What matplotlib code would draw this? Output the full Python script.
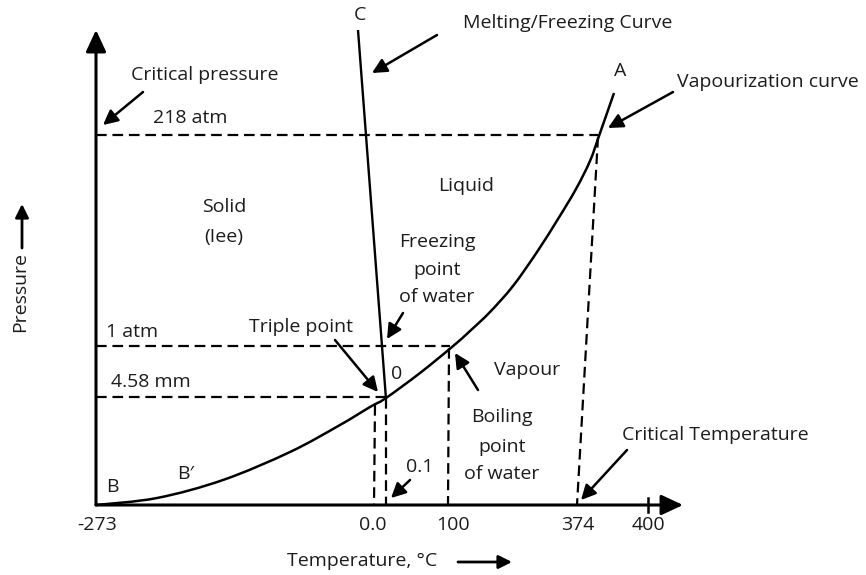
import matplotlib
matplotlib.use("Agg")
import matplotlib.pyplot as plt
from matplotlib.path import Path
from matplotlib.patches import PathPatch

plt.rcParams["font.family"] = ["Open Sans", "DejaVu Sans"]

# schematic drawing units (one unit = one pixel of the 866x575 picture, y downwards)
origin = (96, 505)
x_end, y_end = 683, 30

# vapourization curve B -> O -> A
vap_x = [96, 157, 223, 290, 340, 370, 386, 420, 452, 470, 490, 513, 537, 558, 576, 590, 599, 614]
vap_y = [505, 498, 480, 452, 425, 407, 398, 373, 347, 331, 312, 286, 252, 219, 189, 161, 136, 93]

# melting / freezing curve O -> C
melt_x = [386, 358]
melt_y = [399, 30]

# temperature ticks
tick_labels = ["-273", "0.0", "100", "374", "400"]
tick_x = [97, 373, 453, 578, 648]

# pressure levels: label, level, dashed line end
p_labels = ["218 atm", "1 atm", "4.58 mm"]
p_level = [135, 346, 397]
p_end = [598, 450, 386]

# vertical drop lines (top, bottom)
drop_top = [(375, 405), (386, 398), (449, 348), (598, 137)]
drop_bot = [(374, 505), (386, 505), (448, 505), (577, 505)]

TXT = "#1c1c1c"
FS = 14

fig = plt.figure(figsize=(8.66, 5.75), dpi=100)
ax = fig.add_axes([0, 0, 1, 1])
ax.set_xlim(0, 866)
ax.set_ylim(575, 0)
ax.axis("off")


def arrow(x0, y0, x1, y1, scale=22, lw=1.8, style="-|>"):
    ax.annotate("", xy=(x1, y1), xytext=(x0, y0),
                arrowprops=dict(arrowstyle=style, mutation_scale=scale, lw=lw,
                                color="k", shrinkA=0, shrinkB=0))


def label(x, y, s, ha="center", **kw):
    ax.text(x, y, s, ha=ha, va="center", fontsize=FS, color=TXT, **kw)


def smooth_path(xs, ys):
    # cubic bezier segments through the read points (Catmull-Rom handles)
    pts = list(zip(xs, ys))
    verts = [pts[0]]
    codes = [Path.MOVETO]
    for i in range(len(pts) - 1):
        p0 = pts[i - 1] if i > 0 else pts[i]
        p1, p2 = pts[i], pts[i + 1]
        p3 = pts[i + 2] if i + 2 < len(pts) else pts[i + 1]
        c1 = (p1[0] + (p2[0] - p0[0]) / 6, p1[1] + (p2[1] - p0[1]) / 6)
        c2 = (p2[0] - (p3[0] - p1[0]) / 6, p2[1] - (p3[1] - p1[1]) / 6)
        verts += [c1, c2, p2]
        codes += [Path.CURVE4] * 3
    return Path(verts, codes)


# axes with arrow heads
axis_style = "-|>,head_length=0.6,head_width=0.28"
arrow(origin[0], origin[1], origin[0], y_end, style=axis_style, lw=2.2)
arrow(origin[0], origin[1], x_end, origin[1], style=axis_style, lw=2.2)
ax.plot([648, 648], [498, 512], color="k", lw=1.8)

# dashed guide lines
dash = dict(color="k", lw=1.6, dashes=(4.8, 2.6))
for lvl, xe in zip(p_level, p_end):
    ax.plot([origin[0], xe], [lvl, lvl], **dash)
for (xt, yt), (xb, yb) in zip(drop_top, drop_bot):
    ax.plot([xt, xb], [yt, yb], **dash)

# phase boundaries
ax.add_patch(PathPatch(smooth_path(vap_x, vap_y), fill=False, lw=1.8,
                       edgecolor="k", capstyle="butt"))
ax.plot(melt_x, melt_y, color="k", lw=1.7, solid_capstyle="butt")

# tick labels
for lab, x in zip(tick_labels, tick_x):
    label(x, 525, lab)

# axis titles
label(362, 561, "Temperature, \u00b0C")
arrow(458, 562, 512, 562, scale=20, lw=2)
label(20, 292, "Pressure", rotation=90)
arrow(22, 248, 22, 204, scale=20, lw=2)

# pressure labels
label(106, 332, p_labels[1], ha="left")
label(111, 382, p_labels[2], ha="left")
label(190, 118, p_labels[0])

# region and point labels
label(131, 75, "Critical pressure", ha="left")
arrow(143, 92, 103, 125)
label(224, 207, "Solid")
label(224, 237, "(Iee)")
label(360, 15, "C")
label(463, 23, "Melting/Freezing Curve", ha="left")
arrow(437, 35, 372, 73)
label(620, 71, "A")
label(677, 82, "Vapourization curve", ha="left")
arrow(673, 92, 608, 128)
label(466, 186, "Liquid")
label(437, 242, "Freezing")
label(437, 270, "point")
label(437, 297, "of water")
arrow(403, 313, 387, 339)
label(301, 327, "Triple point")
arrow(335, 340, 378, 392)
label(397, 374, "0")
label(527, 370, "Vapour")
arrow(478, 390, 455, 353)
label(502, 417, "Boiling")
label(502, 447, "point")
label(502, 474, "of water")
label(420, 467, "0.1")
arrow(410, 480, 391, 498)
label(622, 435, "Critical Temperature", ha="left")
arrow(627, 450, 581, 500)
label(112, 487, "B")
label(186, 474, "B\u2032")

fig.savefig("out.png", dpi=100)
